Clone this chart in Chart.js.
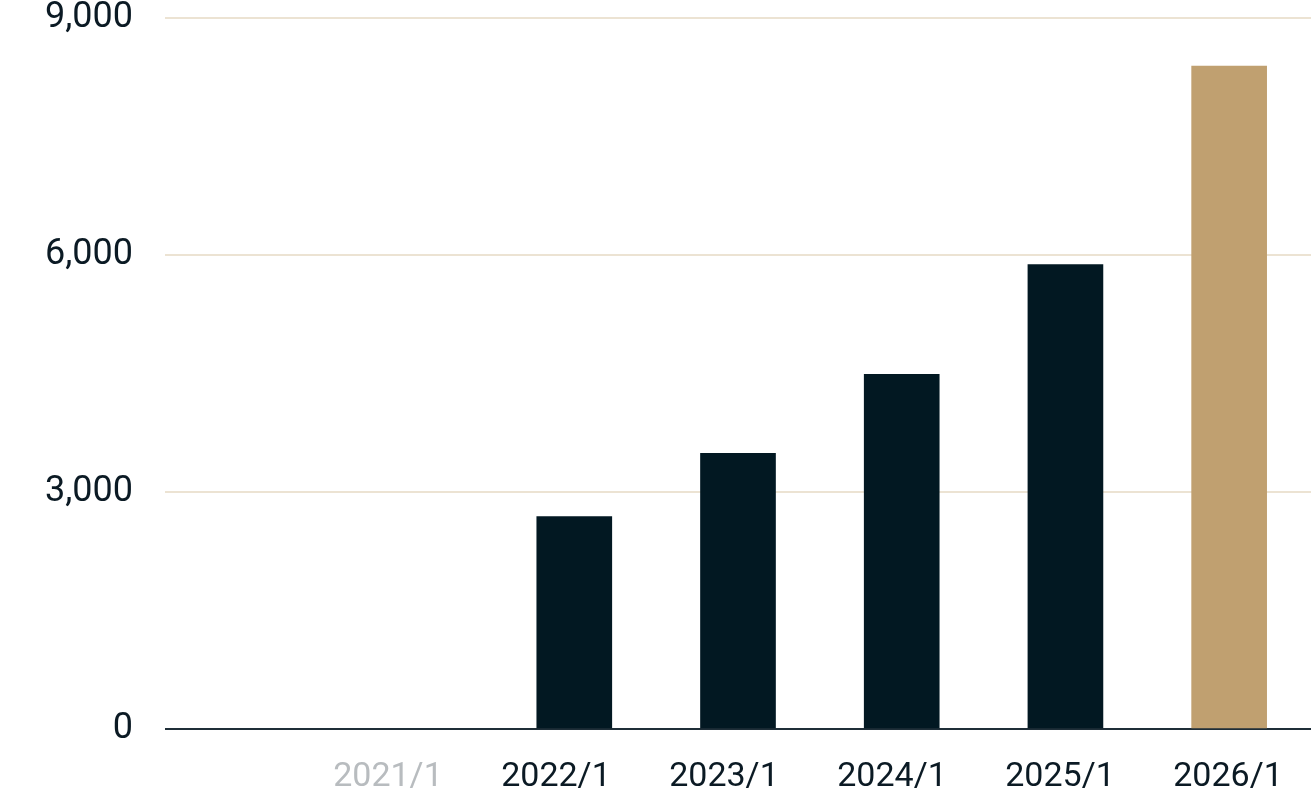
<!DOCTYPE html>
<html>
<head>
<meta charset="utf-8">
<script src="https://cdn.jsdelivr.net/npm/chart.js@4"></script>
<style>
  html, body { margin: 0; padding: 0; background: #fff; }
  .wrap { width: 1311px; height: 801px; position: relative; }
</style>
</head>
<body>
<div class="wrap"><canvas id="myChart"></canvas></div>
<script>
// data
const categories = ['2021/1', '2022/1', '2023/1', '2024/1', '2025/1', '2026/1'];
const values = [null, 2690, 3490, 4490, 5880, 8390];
const yTicks = [0, 3000, 6000, 9000];

const dark = '#021822';
const gold = '#c0a070';
const textColor = '#0b1a24';
const grey = '#b8bcbf';

// leading empty slot on the bar axis
const slots = [''].concat(categories);
const slotValues = [null].concat(values);

const config = {
  type: 'bar',
  data: {
    labels: slots,
    datasets: [{
      data: slotValues,
      backgroundColor: ctx => ctx.dataIndex === slots.length - 1 ? gold : dark,
      barThickness: 75,
      xAxisID: 'x',
    }]
  },
  options: {
    responsive: true,
    maintainAspectRatio: false,
    animation: false,
    layout: { padding: { bottom: 7 } },
    plugins: {
      legend: { display: false },
      tooltip: { enabled: false },
    },
    scales: {
      x: {
        display: false,
      },
      // label axis, slightly wider spacing than the bars
      xl: {
        type: 'linear',
        position: 'bottom',
        offset: false,
        bounds: 'data',
        min: -1.327,
        max: 5.494,
        afterBuildTicks: s => { s.ticks = categories.map((c, i) => ({ value: i })); },
        grid: { display: true, offset: false, drawOnChartArea: false, drawTicks: true, tickLength: 31, tickColor: 'rgba(0,0,0,0)' },
        border: { display: false },
        ticks: {
          padding: 0,
          autoSkip: false,
          maxRotation: 0,
          font: { family: 'Roboto', size: 34, lineHeight: 1 },
          color: ctx => ctx.index === 0 ? grey : textColor,
          callback: (v, i) => categories[i],
        }
      },
      y: {
        min: 0,
        max: 9000,
        afterBuildTicks: s => { s.ticks = yTicks.map(v => ({ value: v })); },
        afterFit: s => { s.width = 165; },
        border: { display: false },
        grid: {
          drawTicks: true,
          tickLength: 32,
          tickColor: 'rgba(0,0,0,0)',
          lineWidth: 2,
          color: ctx => ctx.tick && ctx.tick.value === 0 ? '#1f2e38' : '#ece3d3',
        },
        ticks: {
          padding: 0,
          font: { family: 'Roboto', size: 36, lineHeight: 1 },
          color: textColor,
          callback: v => v.toLocaleString('en-US'),
        }
      }
    }
  }
};

const myChart = new Chart(document.getElementById('myChart'), config);
</script>
</body>
</html>
